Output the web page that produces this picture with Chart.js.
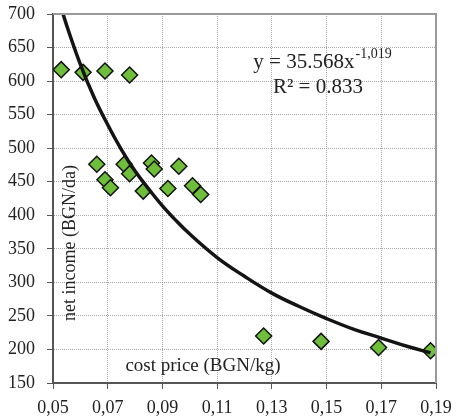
<!DOCTYPE html>
<html>
<head>
<meta charset="utf-8">
<script src="https://cdn.jsdelivr.net/npm/chart.js@4"></script>
<style>
  body { margin: 0; background: #fff; }
  #wrap { width: 456px; height: 416px; }
</style>
</head>
<body>
<div id="wrap"><canvas id="grafico"></canvas></div>
<script>
// cost price (BGN/kg) vs net income (BGN/da)
const costPrice = [0.053, 0.061, 0.069, 0.078, 0.066, 0.069, 0.071, 0.076, 0.078, 0.083,
  0.086, 0.087, 0.092, 0.096, 0.101, 0.104, 0.127, 0.148, 0.169, 0.188];
const netIncome = [617, 613, 615, 609, 476, 453, 441, 476, 462, 436,
  478, 469, 440, 473, 444, 431, 220, 212, 203, 198];

// power trend line
const trendX = [0.052, 0.055, 0.06, 0.065, 0.07, 0.075, 0.08, 0.085, 0.09, 0.095, 0.10,
  0.11, 0.12, 0.13, 0.14, 0.15, 0.16, 0.17, 0.18, 0.188];
const trendY = [723, 683, 625, 576, 535, 498, 466, 439, 414, 392, 372,
  337, 309, 284, 264, 246, 230, 217, 204, 195];

const xTicks = ['0,05', '0,07', '0,09', '0,11', '0,13', '0,15', '0,17', '0,19'];
const yTicks = ['150', '200', '250', '300', '350', '400', '450', '500', '550', '600', '650', '700'];

const equation = 'y = 35.568x';
const exponent = '-1,019';
const rSquared = 'R² = 0.833';
const xTitle = 'cost price (BGN/kg)';
const yTitle = 'net income (BGN/da)';

const serif = '"Liberation Serif", "Times New Roman", serif';

const textos = {
  id: 'textos',
  afterDraw(chart) {
    const ctx = chart.ctx;
    const a = chart.chartArea;
    ctx.save();
    // top and right frame
    ctx.strokeStyle = '#9a9a9a';
    ctx.lineWidth = 2;
    ctx.beginPath();
    ctx.moveTo(a.left, a.top);
    ctx.lineTo(a.right, a.top);
    ctx.lineTo(a.right, a.bottom);
    ctx.stroke();

    ctx.fillStyle = '#222';
    ctx.font = '19px ' + serif;
    ctx.textAlign = 'center';
    ctx.textBaseline = 'alphabetic';
    ctx.fillText(xTitle, 203, 371);

    ctx.save();
    ctx.translate(75, 243);
    ctx.rotate(-Math.PI / 2);
    ctx.font = '18px ' + serif;
    ctx.fillText(yTitle, 0, 0);
    ctx.restore();

    ctx.textAlign = 'left';
    ctx.font = '21px ' + serif;
    const w1 = ctx.measureText(equation).width;
    ctx.font = '14px ' + serif;
    const w2 = ctx.measureText(exponent).width;
    let x0 = 322 - (w1 + w2) / 2;
    ctx.font = '21px ' + serif;
    ctx.fillText(equation, x0, 68);
    ctx.font = '14px ' + serif;
    ctx.fillText(exponent, x0 + w1 + 1, 58);
    ctx.font = '21px ' + serif;
    ctx.textAlign = 'center';
    ctx.fillText(rSquared, 318, 93);
    ctx.restore();
  }
};

const grafico = new Chart(document.querySelector('#grafico'), {
  type: 'scatter',
  data: {
    datasets: [{
      type: 'line',
      label: 'trend',
      data: trendX.map((x, i) => ({ x: x, y: trendY[i] })),
      borderColor: '#141414',
      borderWidth: 3.5,
      pointRadius: 0,
      tension: 0.4,
      fill: false
    }, {
      label: 'net income',
      data: costPrice.map((x, i) => ({ x: x, y: netIncome[i] })),
      pointStyle: 'rectRot',
      pointRadius: 8,
      backgroundColor: '#6fbe3b',
      borderColor: '#111',
      borderWidth: 1.5
    }]
  },
  options: {
    responsive: true,
    maintainAspectRatio: false,
    animation: false,
    layout: { padding: { left: 0, top: 14, right: 20, bottom: 0 } },
    plugins: { legend: { display: false }, tooltip: { enabled: false } },
    scales: {
      x: {
        type: 'linear',
        min: 0.05,
        max: 0.19,
        afterFit(scale) {
          scale.height = 33;
          scale.paddingLeft = 0;
          scale.paddingRight = 0;
        },
        ticks: {
          stepSize: 0.02,
          padding: 8,
          color: '#222',
          font: { family: serif, size: 18 },
          callback: (v, i) => xTicks[i]
        },
        grid: { color: '#a8a8a8', tickColor: '#555', tickLength: 6 },
        border: { color: '#555', width: 2, dash: [1, 1] }
      },
      y: {
        min: 150,
        max: 700,
        afterFit(scale) {
          scale.width = 53;
          scale.paddingTop = 0;
          scale.paddingBottom = 0;
        },
        ticks: {
          stepSize: 50,
          padding: 12,
          color: '#222',
          font: { family: serif, size: 18 },
          callback: (v, i) => yTicks[i]
        },
        grid: { color: '#a8a8a8', tickColor: '#555', tickLength: 6 },
        border: { color: '#555', width: 2, dash: [1, 1] }
      }
    }
  },
  plugins: [textos]
});
</script>
</body>
</html>
